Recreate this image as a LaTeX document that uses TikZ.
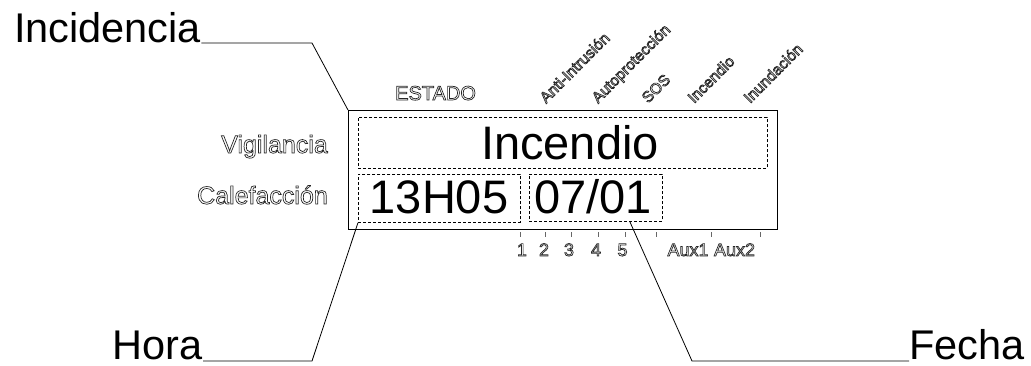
\documentclass[tikz,border=0pt]{standalone}
\usepackage{fontspec}
\setmainfont{Liberation Sans}
\newcommand\olt[1]{\special{pdf:literal direct 1 Tr 0.7 w}#1\special{pdf:literal direct 0 Tr}}
\begin{document}
\begin{tikzpicture}[x=1pt,y=-1pt,
  bigcall/.style={font=\fontsize{41.5}{45}\selectfont, inner sep=0pt, text depth=0pt},
  digits/.style={font=\fontsize{47}{50}\selectfont, inner sep=0pt},
  small/.style={font=\fontsize{20}{22}\selectfont, inner sep=0pt, text=black!85},
  side/.style={font=\fontsize{25}{27}\selectfont, inner sep=0pt, text=black!85},
  tiny/.style={font=\fontsize{18}{20}\selectfont, inner sep=0pt, text=black!85},
  diag/.style={font=\fontsize{15.5}{17}\selectfont, inner sep=0pt, text=black!85, rotate=45, anchor=base west},
  dbox/.style={draw, dash pattern=on 3pt off 2pt, line width=0.7pt, inner sep=0pt, anchor=north west},
  conn/.style={line width=0.8pt},
  tick/.style={line width=0.6pt, black!60}]
\useasboundingbox (0,0) rectangle (1031,365);
% main display
\node[draw, line width=1pt, inner sep=0pt, minimum width=429pt, minimum height=119pt, anchor=north west] (disp) at (348,110) {};
\node[dbox, minimum width=409pt, minimum height=51pt] (b1) at (358,117) {};
\node[dbox, minimum width=162pt, minimum height=48pt] (b2) at (358,174) {};
\node[dbox, minimum width=133pt, minimum height=47pt] (b3) at (529,174) {};
\node[digits, anchor=base] (tinc) at (570,159) {Incendio};
\node[digits, anchor=base] (thora) at (439,213) {13H05};
\node[digits, anchor=base] (tfecha) at (593,213) {07/01};
% side labels
\node[small, anchor=base west] (estado) at (395,100) {\olt{ESTADO}};
\node[side, anchor=base east] (vig) at (328,153) {\olt{Vigilancia}};
\node[side, anchor=base east] (cal) at (328,204) {\olt{Calefacción}};
% rotated labels
\node[diag] (l1) at (546,104) {\olt{Anti-Intrusión}};
\node[diag] (l2) at (598,104) {\olt{Autoprotección}};
\node[diag] (l3) at (648,104) {\olt{SOS}};
\node[diag] (l4) at (694,104) {\olt{Incendio}};
\node[diag] (l5) at (750,104) {\olt{Inundación}};
% ticks
\foreach \x in {520,545,571,598,625,656,711,760} \draw[tick] (\x,232) -- (\x,236.5);
% bottom labels
\node[tiny, anchor=base] (n1) at (522,256) {\olt{1}};
\node[tiny, anchor=base] (n2) at (544,256) {\olt{2}};
\node[tiny, anchor=base] (n3) at (569,256) {\olt{3}};
\node[tiny, anchor=base] (n4) at (596,256) {\olt{4}};
\node[tiny, anchor=base] (n5) at (622.5,256) {\olt{5}};
\node[tiny, anchor=base] (a1) at (688,256) {\olt{Aux1}};
\node[tiny, anchor=base] (a2) at (734.5,256) {\olt{Aux2}};
% callouts
\node[bigcall, anchor=base west] (inc) at (14,42) {Incidencia};
\node[bigcall, anchor=base east] (hora) at (203,359.5) {Hora};
\node[bigcall, anchor=base west] (fecha) at (909,359.5) {Fecha};
\coordinate (incbend) at (312,43);
\coordinate (horabend) at (312,361);
\coordinate (fechabend) at (692,361);
\draw[conn] (inc.base east) ++(0,1) -- (incbend) -- (disp.north west);
\draw[conn] (hora.base east) ++(0,1.5) -- (horabend) -- (b2.south west);
\draw[conn] (fecha.base west) ++(0,1.5) -- (fechabend) -- ([xshift=34pt]b3.south);
\end{tikzpicture}
\end{document}
